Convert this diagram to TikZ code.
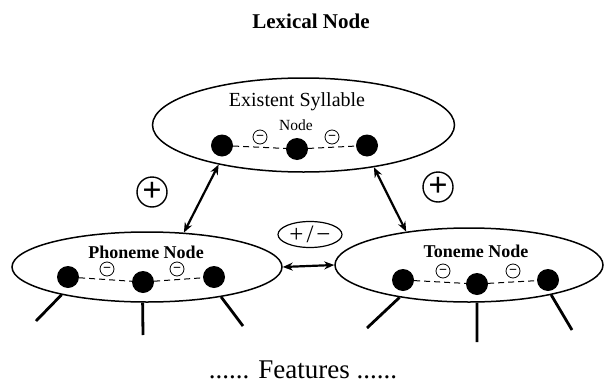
\documentclass[tikz,border=0pt]{standalone}
\usepackage{fontspec}
\setmainfont{Liberation Serif}
\newfontfamily\tms{Liberation Serif}
\usetikzlibrary{arrows.meta,shapes.geometric}

\begin{document}
\begin{tikzpicture}[x=1pt,y=-1pt,>={Stealth[length=10pt,width=8pt]},
    blob/.style={draw,ellipse,line width=1.5pt,inner sep=0pt},
    unit/.style={circle,fill=black,inner sep=0pt,minimum size=22pt},
    negring/.style={circle,draw,line width=0.8pt,inner sep=0pt,minimum size=14pt,text height=7pt,text depth=0pt,font=\tms\bfseries\fontsize{14}{14}\selectfont},
    plusring/.style={circle,draw,line width=1.4pt,inner sep=0pt,minimum size=30pt,font=\tms\bfseries\fontsize{34}{34}\selectfont},
    link/.style={<->,line width=2.2pt},
    leg/.style={line width=2.8pt},
    inhib/.style={dash pattern=on 6pt off 4pt,line width=1pt}]
  \useasboundingbox (0,0) rectangle (605,383);
  \node[anchor=base,font=\tms\bfseries\fontsize{21}{21}\selectfont] (title) at (311,28) {Lexical Node};

  % existent syllable
  \node[blob,minimum width=302pt,minimum height=94pt] (syl) at (303.5,125) {};
  \node[anchor=base,font=\tms\fontsize{20}{20}\selectfont] (syltxt) at (297,106) {Existent Syllable};
  \node[anchor=base,font=\tms\fontsize{15.5}{15.5}\selectfont] (syltxtb) at (296,130) {Node};
  \node[unit] (s1) at (222,145.5) {};
  \node[unit] (s2) at (297,149) {};
  \node[unit] (s3) at (367,145.5) {};
  \draw[inhib] (s1) -- (s2) -- (s3);
  \node[negring] (sn1) at (260,137) {−};
  \node[negring] (sn2) at (332,137) {−};

  % phoneme
  \node[blob,minimum width=270pt,minimum height=70pt] (pho) at (147,267) {};
  \node[anchor=base,font=\tms\bfseries\fontsize{18}{18}\selectfont] (photxt) at (146,258) {Phoneme Node};
  \node[unit] (p1) at (68,277) {};
  \node[unit] (p2) at (143,282) {};
  \node[unit] (p3) at (214,277) {};
  \draw[inhib] (p1) -- (p2) -- (p3);
  \node[negring] (pn1) at (107,269) {−};
  \node[negring] (pn2) at (177,269) {−};
  \coordinate (pf1) at (36,321);
  \coordinate (pf2) at (143,335);
  \coordinate (pf3) at (243,326);
  \draw[leg] (pho.198) -- (pf1);
  \draw[leg] (pho.263) -- (pf2);
  \draw[leg] (pho.338) -- (pf3);

  % toneme
  \node[blob,minimum width=268pt,minimum height=74pt] (ton) at (469,265) {};
  \node[anchor=base,font=\tms\bfseries\fontsize{18}{18}\selectfont] (tontxt) at (476,257) {Toneme Node};
  \node[unit] (t1) at (403,280) {};
  \node[unit] (t2) at (477,284) {};
  \node[unit] (t3) at (548,280) {};
  \draw[inhib] (t1) -- (t2) -- (t3);
  \node[negring] (tn1) at (443,271) {−};
  \node[negring] (tn2) at (513,271) {−};
  \coordinate (tf1) at (367,328);
  \coordinate (tf2) at (477,342);
  \coordinate (tf3) at (572,330);
  \draw[leg] (ton.205) -- (tf1);
  \draw[leg] (ton.282) -- (tf2);
  \draw[leg] (ton.340) -- (tf3);

  % links
  \draw[link] (syl.205) -- (pho.43);
  \draw[link] (syl.329) -- (ton.152);
  \draw[link] (pho.east) -- (ton.west);
  \node[plusring] (plusl) at (152,192) {+};
  \node[plusring] (plusr) at (438,187) {+};
  \node[draw,ellipse,line width=1.2pt,minimum width=64pt,minimum height=26pt] (pmring) at (310,234.5) {};
  \node[font=\tms\fontsize{25}{25}\selectfont] (pm) at (pmring) {+\kern3pt/\kern3pt−};

  \node[anchor=base,font=\tms\fontsize{27}{27}\selectfont] (feat) at (303,378) {...... Features ......};
\end{tikzpicture}
\end{document}
